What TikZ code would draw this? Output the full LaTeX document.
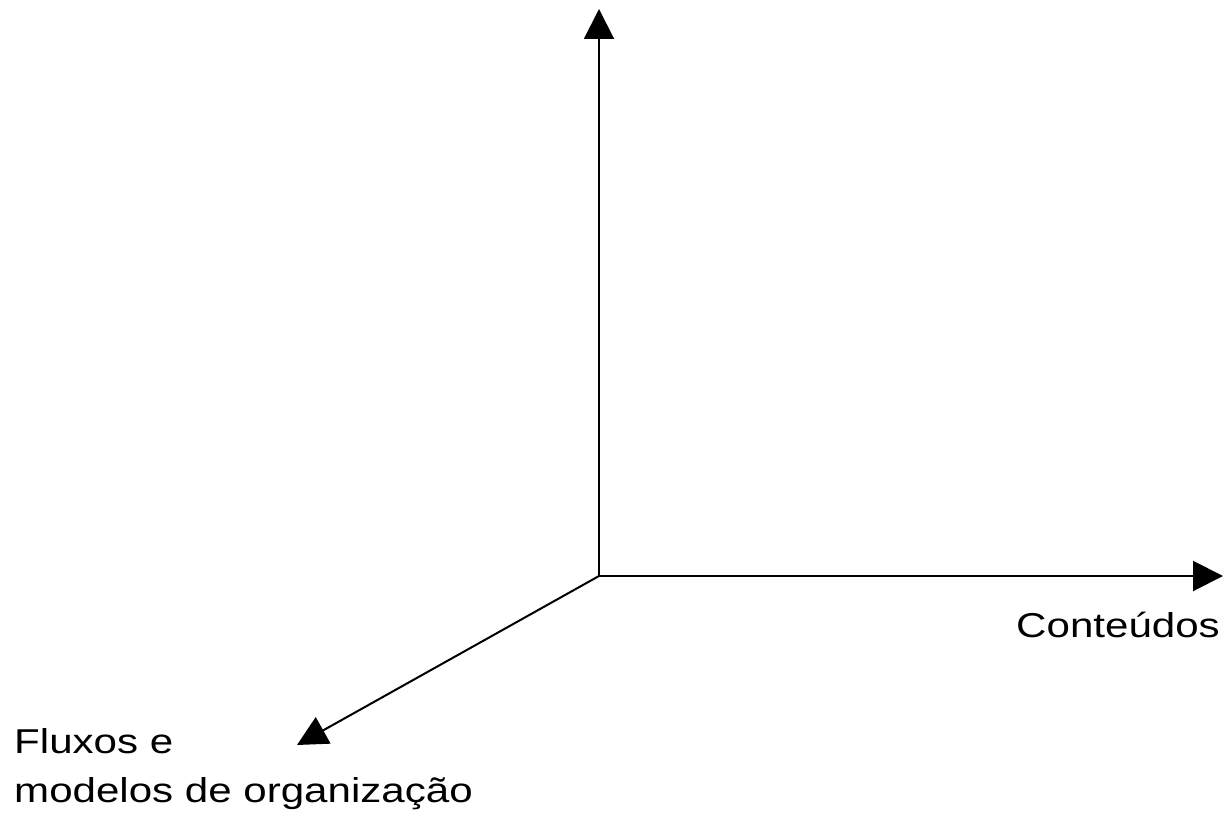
\documentclass[tikz,border=0pt]{standalone}
\usepackage{fontspec}
\setmainfont{Liberation Sans}
\usetikzlibrary{arrows.meta}
\tikzset{
  axis/.style={line width=2pt, -{Triangle[length=30pt,width=30pt]}},
  lbl/.style={anchor=base west, inner sep=0pt, font=\fontsize{34.5}{40}\selectfont},
}
\newcommand{\wide}[1]{\scalebox{1.22}[1]{#1}}
\begin{document}
\begin{tikzpicture}[x=1pt,y=-1pt]
\useasboundingbox (0,0) rectangle (1225,813);
\coordinate (O) at (599,576);
\coordinate (Ytip) at (599,9);
\coordinate (Xtip) at (1223,576);
\coordinate (Ztip) at (297,745);
\draw[axis] (O) -- (Ytip);
\draw[axis] (O) -- (Xtip);
\draw[axis] (O) -- (Ztip);
\node[lbl] (cont) at (1016,637) {\wide{Conteúdos}};
\node[lbl] (flux) at (14,753) {\wide{Fluxos e}};
\node[lbl] (mod) at (14,802) {\wide{modelos de organização}};
\end{tikzpicture}
\end{document}
